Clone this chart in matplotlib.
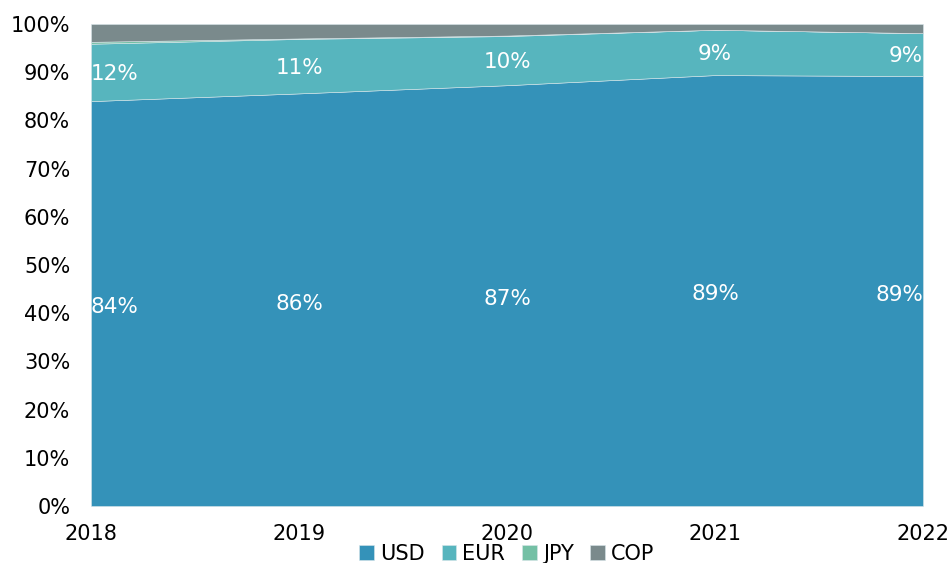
import matplotlib.pyplot as plt
import numpy as np

plt.rcParams['font.family'] = ['DejaVu Sans']

years = [2018, 2019, 2020, 2021, 2022]
usd = [84.0, 85.6, 87.3, 89.4, 89.2]
eur = [11.9, 11.3, 10.2, 9.4, 8.9]
jpy = [0.4, 0.1, 0.1, 0.0, 0.0]
cop = [3.7, 3.0, 2.4, 1.2, 1.9]
usd_labels = ['84%', '86%', '87%', '89%', '89%']
eur_labels = ['12%', '11%', '10%', '9%', '9%']

colors = ['#3492b9', '#57b5be', '#74c0a5', '#7a8a8c']
names = ['USD', 'EUR', 'JPY', 'COP']

fig = plt.figure(figsize=(9.51, 5.63), dpi=100)
ax = fig.add_axes([91 / 951, 1 - 506 / 563, 832 / 951, 482 / 563])

ax.stackplot(years, usd, eur, jpy, cop, colors=colors, labels=names,
             edgecolor='#d8e6ea', linewidth=0.4)

# data labels in the middle of each band
for i, yr in enumerate(years):
    ha = 'center'
    if i == 0:
        ha = 'left'
    elif i == len(years) - 1:
        ha = 'right'
    ax.text(yr, usd[i] / 2 - 0.8, usd_labels[i], color='white', fontsize=15.5,
            ha=ha, va='center')
    ax.text(yr, usd[i] + eur[i] / 2 - 0.3, eur_labels[i], color='white',
            fontsize=15.5, ha=ha, va='center')

ax.set_xlim(2018, 2022)
ax.set_ylim(0, 100)
ax.set_xticks(years)
ax.set_yticks(range(0, 101, 10))
ax.set_yticklabels([f'{v}%' for v in range(0, 101, 10)])
ax.tick_params(length=0, labelsize=15)
ax.tick_params(axis='y', pad=15)
ax.tick_params(axis='x', pad=13)
for s in ax.spines.values():
    s.set_visible(False)

ax.legend(loc='upper center', bbox_to_anchor=(0.5, -0.061), ncol=4, frameon=False,
          fontsize=15, handlelength=0.7, handleheight=0.7, handletextpad=0.3,
          columnspacing=0.8, borderaxespad=0)

fig.savefig('out.png', dpi=100)
